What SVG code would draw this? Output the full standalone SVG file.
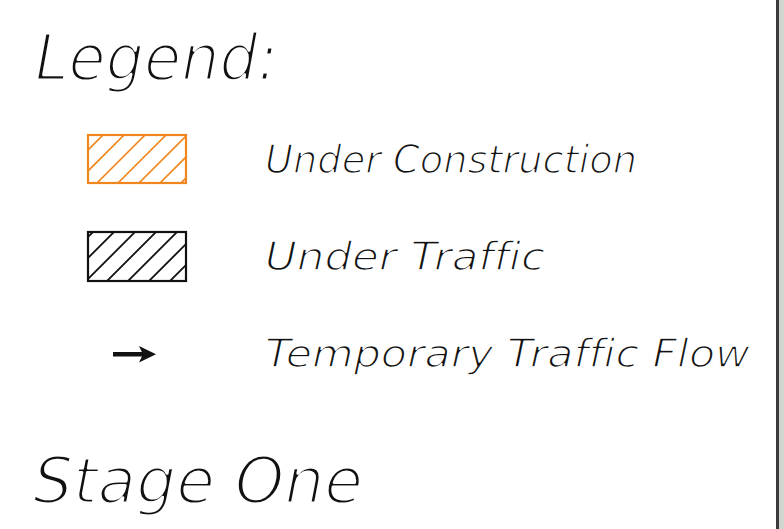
<svg xmlns="http://www.w3.org/2000/svg" width="784" height="529" viewBox="0 0 784 529">
<style>
.t{font-family:"DejaVu Sans","Liberation Sans",sans-serif;font-style:italic;fill:#111;stroke:#fff;stroke-linejoin:round;font-variant-ligatures:none;paint-order:fill stroke}
.big{font-size:64px;stroke-width:3px}
.sm{font-size:39px;stroke-width:1.5px}
.hatchO{stroke:#f0861e;stroke-width:1.6;fill:none}
.hatchK{stroke:#111;stroke-width:1.8;fill:none}
</style>
<defs>
<clipPath id="cO"><rect x="88" y="135" width="98" height="48"/></clipPath>
<clipPath id="cK"><rect x="88" y="232" width="98" height="49"/></clipPath>
</defs>
<rect width="784" height="529" fill="#fff"/>
<rect x="776" y="0" width="3" height="529" fill="#3a3a3a"/>
<rect x="779" y="0" width="5" height="529" fill="#cfd6cf"/>
<text class="t big" x="35" y="80" textLength="243" lengthAdjust="spacingAndGlyphs">Legend:</text>
<g id="legend-construction">
<g clip-path="url(#cO)" class="hatchO">
<path d="M48,190 L118,120 M69,190 L139,120 M90,190 L160,120 M111,190 L181,120 M132,190 L202,120 M153,190 L223,120 M174,190 L244,120"/>
</g>
<rect x="88" y="135" width="98" height="48" fill="none" stroke="#f0861e" stroke-width="2.2"/>
<text class="t sm" x="265" y="173" textLength="372" lengthAdjust="spacingAndGlyphs">Under Construction</text>
</g>
<g id="legend-traffic">
<g clip-path="url(#cK)" class="hatchK">
<path d="M38,287 L108,217 M59,287 L129,217 M80,287 L150,217 M101,287 L171,217 M122,287 L192,217 M143,287 L213,217 M164,287 L234,217 M185,287 L255,217"/>
</g>
<rect x="88" y="232" width="98" height="49" fill="none" stroke="#111" stroke-width="2.2"/>
<text class="t sm" x="265" y="270" textLength="280" lengthAdjust="spacingAndGlyphs">Under Traffic</text>
</g>
<g id="legend-flow">
<rect x="113" y="352" width="30" height="4.5" fill="#111"/>
<polygon points="139,346 156,354.2 139,362.5 143,354.2" fill="#111"/>
<text class="t sm" x="265" y="367" textLength="485" lengthAdjust="spacingAndGlyphs">Temporary Traffic Flow</text>
</g>
<text class="t big" x="33" y="503" textLength="330" lengthAdjust="spacingAndGlyphs">Stage One</text>
</svg>
